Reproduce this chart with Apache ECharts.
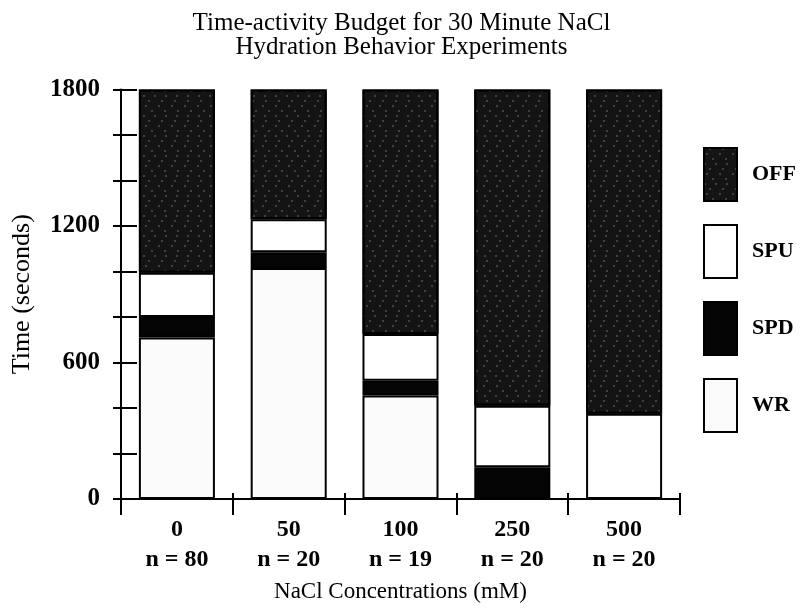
<!DOCTYPE html>
<html>
<head>
<meta charset="utf-8">
<script src="https://cdn.jsdelivr.net/npm/echarts@6/dist/echarts.min.js"></script>
<style>html,body{margin:0;padding:0;background:#fff;}#chart{width:803px;height:612px;}</style>
</head>
<body>
<div id="chart"></div>
<script>
const categories = ['0', '50', '100', '250', '500'];
const sampleSizes = ['n = 80', 'n = 20', 'n = 19', 'n = 20', 'n = 20'];
const wrValues  = [710, 1015, 455, 0, 0];
const spdValues = [90, 70, 65, 140, 0];
const spuValues = [195, 145, 205, 270, 375];
const offValues = [805, 570, 1075, 1390, 1425];
const yTickLabels = [0, 600, 1200, 1800];

const serif = '"Liberation Serif", "DejaVu Serif", serif';
const chart = echarts.init(document.getElementById('chart'), null, {renderer: 'canvas'});

const border = {borderColor: '#000', borderWidth: 2};
function mk(name, data, color, extra) {
  return {
    name: name, type: 'bar', stack: 'total', data: data, barWidth: '68%',
    itemStyle: Object.assign({color: color}, border, extra || {}),
    emphasis: {disabled: true}
  };
}

const option = {
  animation: false,
  backgroundColor: '#fff',
  title: {
    text: 'Time-activity Budget for 30 Minute NaCl\nHydration Behavior Experiments',
    left: 'center', top: 6,
    textStyle: {fontFamily: serif, fontSize: 25, fontWeight: 'normal', color: '#000', lineHeight: 24}
  },
  legend: {
    orient: 'vertical', left: 698, top: 142, icon: 'rect',
    itemWidth: 33, itemHeight: 53, itemGap: 22,
    data: ['OFF', 'SPU', 'SPD', 'WR'],
    textStyle: {fontFamily: serif, fontSize: 22, fontWeight: 'bold', color: '#000', padding: [0, 0, 0, 10]}
  },
  grid: {left: 121, right: 123, top: 89.5, bottom: 113, containLabel: false},
  xAxis: [{
    type: 'category', data: categories, position: 'bottom',
    name: 'NaCl Concentrations (mM)', nameLocation: 'middle', nameGap: 81,
    nameTextStyle: {fontFamily: serif, fontSize: 23, color: '#000'},
    axisLine: {lineStyle: {color: '#000', width: 2}},
    axisTick: {show: true, length: 16, lineStyle: {color: '#000', width: 2}},
    axisLabel: {
      margin: 16, color: '#000', fontFamily: serif, fontSize: 24, fontWeight: 'bold', lineHeight: 30,
      formatter: function (v, i) { return v + '\n' + sampleSizes[i]; }
    }
  }, {
    type: 'category', data: categories, position: 'bottom',
    axisLine: {show: false},
    axisTick: {show: true, inside: true, length: 6, lineStyle: {color: '#000', width: 2}},
    axisLabel: {show: false}
  }],
  yAxis: [{
    type: 'value', min: 0, max: 1800, interval: 200,
    name: 'Time (seconds)', nameLocation: 'middle', nameGap: 86,
    nameTextStyle: {fontFamily: serif, fontSize: 26, color: '#000'},
    axisLine: {show: true, lineStyle: {color: '#000', width: 2}},
    axisTick: {show: true, length: 8, lineStyle: {color: '#000', width: 2}},
    splitLine: {show: false},
    axisLabel: {
      margin: 21, color: '#000', fontFamily: serif, fontSize: 25, fontWeight: 'bold',
      formatter: function (v) { return yTickLabels.indexOf(v) >= 0 ? String(v) : ''; }
    }
  }, {
    type: 'value', min: 0, max: 1800, interval: 200, position: 'left',
    axisLine: {show: false},
    axisTick: {show: true, inside: true, length: 16, lineStyle: {color: '#000', width: 2}},
    splitLine: {show: false},
    axisLabel: {show: false}
  }],
  series: [
    mk('WR', wrValues, '#fbfbfb'),
    mk('SPD', spdValues, '#050505'),
    mk('SPU', spuValues, '#ffffff'),
    mk('OFF', offValues, '#141414', {
      decal: {
        symbol: 'rect', symbolSize: 0.5, color: 'rgba(255,255,255,0.75)',
        dashArrayX: [[2, 9], [0, 5, 2, 6], [0, 2, 2, 9], [0, 8, 2, 3]],
        dashArrayY: [2, 3], rotation: 0
      }
    })
  ]
};
chart.setOption(option);
</script>
</body>
</html>
